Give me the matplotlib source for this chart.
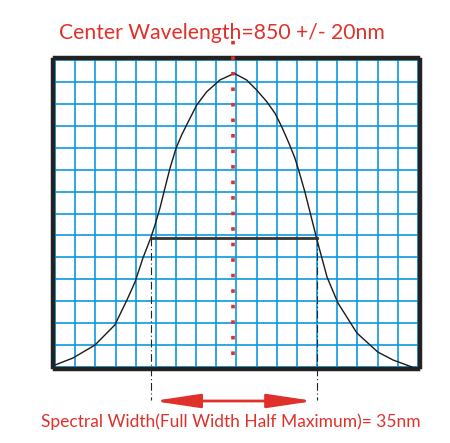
import matplotlib
matplotlib.use("Agg")
import matplotlib.pyplot as plt
from matplotlib.patches import FancyArrowPatch

n_cols = 18
n_rows = 14

curve_x = [0.0, 0.89, 1.98, 2.97, 3.57, 3.97, 4.36, 4.74, 4.96, 5.21, 5.45, 5.70, 6.00,
           6.28, 6.61, 7.03, 7.52, 8.18, 8.89,
           9.50, 10.00, 10.50, 10.91, 11.24, 11.57, 11.90, 12.15, 12.39, 12.64, 12.89, 12.97,
           13.49, 14.03, 14.97, 16.01, 16.76, 17.70]
curve_y = [0.09, 0.41, 1.00, 1.92, 3.06, 3.88, 4.97, 5.87, 6.48, 7.27, 8.15, 9.06, 9.97,
           10.58, 11.19, 11.95, 12.55, 13.09, 13.39,
           13.09, 12.63, 12.10, 11.57, 10.96, 10.27, 9.52, 8.76, 7.99, 7.08, 6.17, 5.87,
           4.10, 2.92, 1.55, 0.68, 0.32, 0.0]

center_x = 8.83
fwhm_left = 4.74
fwhm_right = 12.97
half_level = 5.90

title_text = "Center Wavelength=850 +/- 20nm"
width_text = "Spectral Width(Full Width Half Maximum)= 35nm"

red = "#e0302a"
blue = "#0a9ae0"

fig = plt.figure(figsize=(4.5, 4.43), dpi=100)
ax = fig.add_axes([55 / 450, 76 / 443, 363 / 450, 307 / 443])
ax.set_xlim(0, n_cols)
ax.set_ylim(0, n_rows)

for i in range(n_cols + 1):
    ax.axvline(i, color=blue, lw=1.2, zorder=1)
for j in range(n_rows + 1):
    ax.axhline(j, color=blue, lw=1.2, zorder=1)

ax.set_xticks([])
ax.set_yticks([])
for s in ax.spines.values():
    s.set_linewidth(3.2)
    s.set_color("#222222")
    s.set_position(("outward", 1.5))

# curve and half maximum line
ax.plot(curve_x, curve_y, color="#1a1a1a", lw=1.0, zorder=3)
ax.plot([fwhm_left, fwhm_right], [half_level, half_level], color="#333333", lw=2.0, zorder=3)

# center wavelength dotted line
ax.plot([center_x, center_x], [0.55, 15.25], color=red, lw=2.6,
        linestyle=(0, (1, 3.3)), dash_capstyle="butt", clip_on=False, zorder=4)

# dash-dot drop lines
for xv in [fwhm_left, fwhm_right]:
    ax.plot([xv, xv], [half_level, -1.5], color="#222222", lw=0.8,
            linestyle=(0, (7, 2.5, 1, 2.5)), clip_on=False, zorder=3)

arrow = FancyArrowPatch((fwhm_left, -1.55), (fwhm_right, -1.55),
                        arrowstyle="<|-|>,head_length=28,head_width=4.2",
                        mutation_scale=1, color=red, lw=2.0, clip_on=False)
ax.add_patch(arrow)

fig.text(59 / 450, 1 - 33 / 443, title_text, color=red, fontsize=15.2,
         family="Lato", ha="left", va="center")
fig.text(231 / 450, 1 - 422 / 443, width_text, color=red, fontsize=12.5,
         family="Lato", ha="center", va="center")

fig.savefig("out.png", dpi=100)
